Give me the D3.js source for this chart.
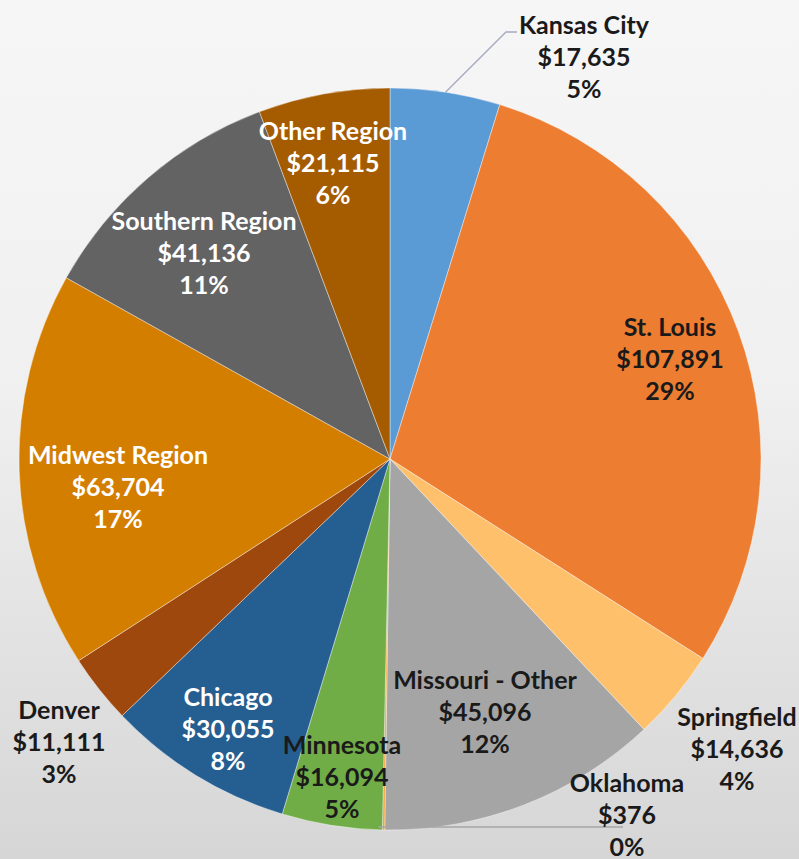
<!DOCTYPE html>
<html>
<head>
<meta charset="utf-8">
<script src="https://cdn.jsdelivr.net/npm/d3@7/dist/d3.min.js"></script>
<style>
  html, body { margin: 0; padding: 0; overflow: hidden; }
  svg { display: block; }
  text { font-family: Lato, "Open Sans", sans-serif; font-weight: 700; }
</style>
</head>
<body>
<div id="chart"></div>
<script>
// Slices in drawing order, clockwise from 12 o'clock
const regions = ["Kansas City", "St. Louis", "Springfield", "Missouri - Other", "Oklahoma",
                 "Minnesota", "Chicago", "Denver", "Midwest Region", "Southern Region", "Other Region"];
const amounts = [17635, 107891, 14636, 45096, 376, 16094, 30055, 11111, 63704, 41136, 21115];
// percentages as printed on the chart
const shares = [5, 29, 4, 12, 0, 5, 8, 3, 17, 11, 6];

const colors = ["#5b9bd5", "#ed7d31", "#ffc06b", "#a5a5a5", "#f4a33a",
                "#70ad47", "#255e91", "#9e480e", "#d47e00", "#636363", "#a55c00"];
const labelColors = ["#1a1a1a", "#1a1a1a", "#1a1a1a", "#1a1a1a", "#1a1a1a",
                     "#1a1a1a", "#ffffff", "#1a1a1a", "#ffffff", "#ffffff", "#ffffff"];

// hand placed label centres (as in the original chart)
const labelPos = [[584, 25], [670, 327], [737, 717], [485, 680], [627, 783],
                  [342, 745], [228, 697], [59, 710], [118, 455], [204, 221], [333, 131]];

const width = 799, height = 859;
const cx = 390, cy = 459, radius = 371;
const lineGap = 32;

const svg = d3.select("#chart").append("svg")
    .attr("width", width)
    .attr("height", height);

// background gradient
let defs = svg.append("defs");
let bg = defs.append("linearGradient")
    .attr("id", "bg")
    .attr("x1", 0).attr("y1", 0).attr("x2", 0).attr("y2", 1);
bg.append("stop").attr("offset", "0%").attr("stop-color", "#f6f6f6");
bg.append("stop").attr("offset", "45%").attr("stop-color", "#f0f0f0");
bg.append("stop").attr("offset", "100%").attr("stop-color", "#d6d6d6");

svg.append("rect")
    .attr("width", width)
    .attr("height", height)
    .attr("fill", "url(#bg)");

const data = regions.map((r, i) => ({name: r, value: amounts[i], share: shares[i], idx: i}));

const pie = d3.pie()
    .sort(null)
    .value(d => d.value);

const arc = d3.arc()
    .innerRadius(0)
    .outerRadius(radius);

const arcs = pie(data);

const g = svg.append("g")
    .attr("transform", "translate(" + cx + "," + cy + ")");

g.selectAll("path.slice")
    .data(arcs)
    .join("path")
    .attr("class", "slice")
    .attr("d", arc)
    .attr("fill", d => colors[d.data.idx])
    .attr("stroke", "#ffffff")
    .attr("stroke-width", 0.4);

// leader lines for the two outside labels that need one
const edgePoint = d => {
    let a = (d.startAngle + d.endAngle) / 2;
    return [cx + radius * Math.sin(a), cy - radius * Math.cos(a)];
};

let kc = edgePoint(arcs[0]);
svg.append("polyline")
    .attr("points", [kc, [506, 32], [517, 32]].map(p => p.join(",")).join(" "))
    .attr("fill", "none")
    .attr("stroke", "#a7a9c0")
    .attr("stroke-width", 1.3);

let ok = edgePoint(arcs[4]);
svg.append("line")
    .attr("x1", ok[0] - 5).attr("y1", ok[1] - 3)
    .attr("x2", 623).attr("y2", ok[1] - 3)
    .attr("stroke", "#a6a6a6")
    .attr("stroke-width", 1.5);

const fmt = d3.format(",");

const labels = svg.selectAll("text.label")
    .data(data)
    .join("text")
    .attr("class", "label")
    .attr("text-anchor", "middle")
    .attr("font-size", 25)
    .attr("fill", d => labelColors[d.idx]);

labels.each(function(d) {
    let t = d3.select(this);
    let [x, y] = labelPos[d.idx];
    [d.name, "$" + fmt(d.value), d.share + "%"].forEach((line, k) => {
        t.append("tspan")
            .attr("x", x)
            .attr("y", y + k * lineGap)
            .attr("dy", "0.35em")
            .text(line);
    });
});
</script>
</body>
</html>
